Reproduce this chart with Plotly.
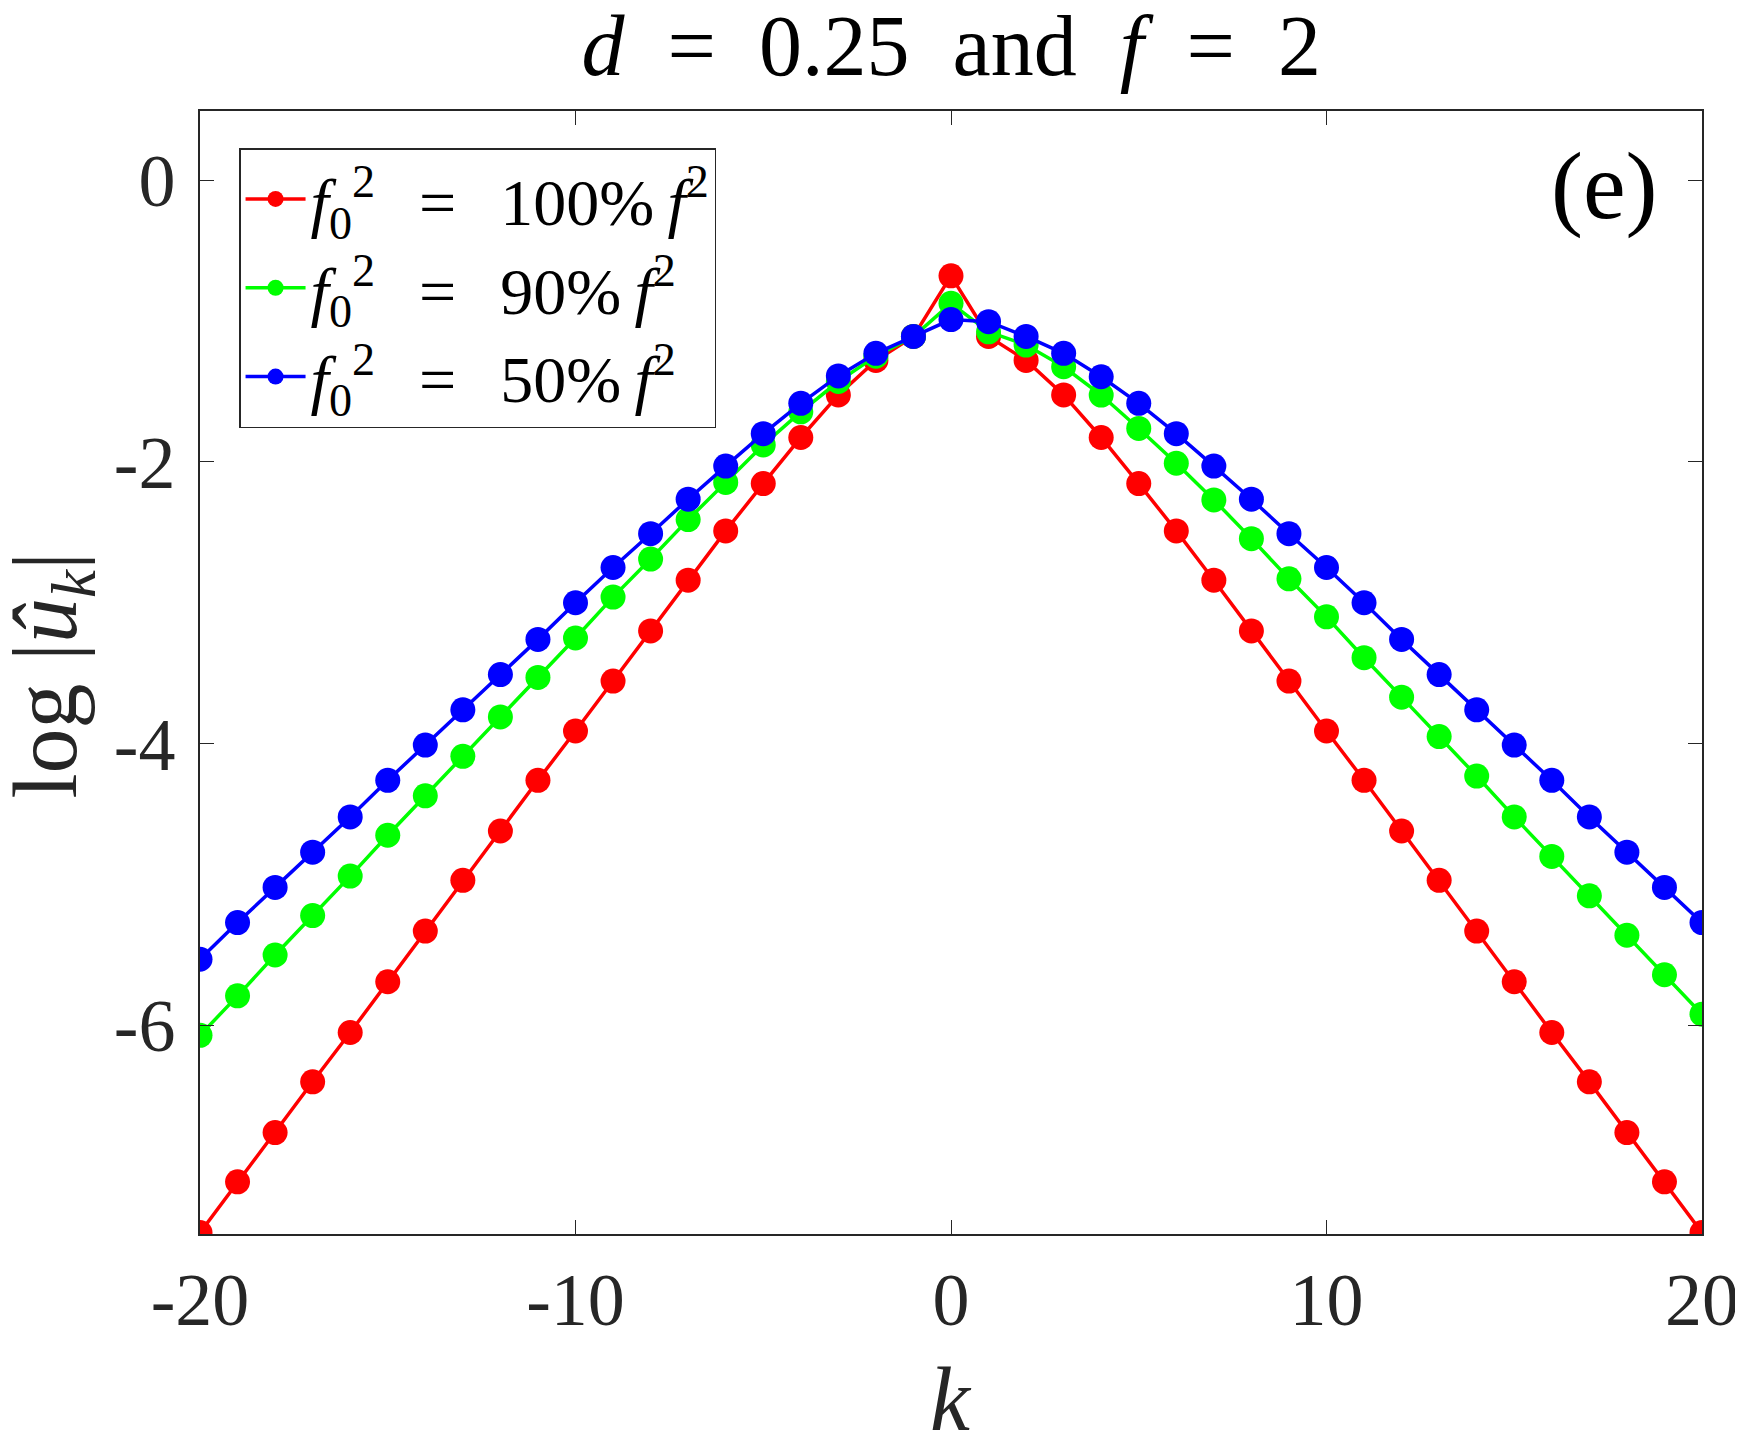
import plotly.graph_objects as go

# wavenumbers
k = list(range(-20, 21))

# log|u_k|, k = -20 .. 20
red_100 = [-7.47, -7.11, -6.76, -6.40, -6.05, -5.69, -5.33, -4.97, -4.62, -4.26,
           -3.91, -3.556, -3.20, -2.84, -2.49, -2.154, -1.827, -1.525, -1.28, -1.11,
           -0.68,
           -1.11, -1.28, -1.525, -1.827, -2.154, -2.49, -2.84, -3.20, -3.556, -3.91,
           -4.26, -4.62, -4.97, -5.33, -5.69, -6.05, -6.40, -6.76, -7.11, -7.47]

green_90 = [-6.07, -5.79, -5.50, -5.22, -4.94, -4.65, -4.37, -4.09, -3.81, -3.53,
            -3.25, -2.96, -2.69, -2.41, -2.146, -1.88, -1.645, -1.43, -1.25, -1.11,
            -0.875,
            -1.077, -1.171, -1.325, -1.526, -1.763, -2.01, -2.27, -2.545, -2.83, -3.10,
            -3.39, -3.67, -3.95, -4.23, -4.52, -4.80, -5.08, -5.36, -5.64, -5.92]

blue_50 = [-5.53, -5.27, -5.02, -4.77, -4.52, -4.26, -4.01, -3.76, -3.51, -3.26,
           -3.00, -2.75, -2.51, -2.265, -2.03, -1.80, -1.585, -1.39, -1.23, -1.11,
           -0.99,
           -1.005, -1.11, -1.23, -1.396, -1.585, -1.80, -2.03, -2.265, -2.51, -2.75,
           -3.00, -3.26, -3.51, -3.76, -4.01, -4.26, -4.52, -4.77, -5.02, -5.27]

EQ = "\u2002\u2006=\u2002\u2006"   # wide gap round "=", like the TeX original
names = ["<i>f</i><sub>0</sub><sup>2</sup>" + EQ + "100%\u2009<i>f</i><sup>2</sup>",
         "<i>f</i><sub>0</sub><sup>2</sup>" + EQ + "90%\u2009<i>f</i><sup>2</sup>",
         "<i>f</i><sub>0</sub><sup>2</sup>" + EQ + "50%\u2009<i>f</i><sup>2</sup>"]
colors = ["#ff0000", "#00ff00", "#0000ff"]

x_ticks = [-20, -10, 0, 10, 20]
x_labels = ["-20", "-10", "0", "10", "20"]
y_ticks = [0, -2, -4, -6]
y_labels = ["0", "-2", "-4", "-6"]

FONT = "Liberation Serif"
AX = "#262626"

fig = go.Figure()
for vals, name, col in zip([red_100, green_90, blue_50], names, colors):
	fig.add_trace(go.Scatter(
		x = k, y = vals, name = name, mode = "lines+markers",
		line = dict(color = col, width = 3.5),
		marker = dict(color = col, size = 25)))

axis_common = dict(
	showline = True, linecolor = AX, linewidth = 1.5, mirror = "ticks",
	ticks = "inside", ticklen = 14, tickwidth = 1.2, tickcolor = AX,
	showgrid = False, zeroline = False, automargin = False,
	ticklabeloverflow = "allow",
	tickfont = dict(family = FONT, size = 74, color = AX))

fig.update_xaxes(range = [-20, 20], tickvals = x_ticks, ticktext = x_labels,
	ticklabelstandoff = 0, **axis_common)
fig.update_yaxes(range = [-7.48, 0.49], tickvals = y_ticks, ticktext = y_labels,
	ticklabelstandoff = 8, **axis_common)

# the page body adds 8px round the figure
fig.update_layout(
	width = 1735, height = 1432,
	paper_bgcolor = "white", plot_bgcolor = "white",
	margin = dict(l = 192, r = 41, t = 103, b = 206),
	title = dict(text = "<i>d</i>\u2002=\u20020.25\u2002and\u2002<i>f</i>\u2002=\u20022",
		x = 0.5437, xanchor = "center", y = 0.974, yanchor = "middle",
		font = dict(family = FONT, size = 86, color = "black")),
	legend = dict(x = 0.026, y = 0.967, xanchor = "left", yanchor = "top",
		bordercolor = AX, borderwidth = 1.5, bgcolor = "white",
		font = dict(family = FONT, size = 66, color = "black"),
		itemwidth = 60, tracegroupgap = 0),
	showlegend = True)

# axis titles as annotations so they can sit right at the page edge
fig.add_annotation(text = "<i>k</i>", x = 0.5, y = -0.147, xref = "paper", yref = "paper",
	xanchor = "center", yanchor = "middle", showarrow = False,
	font = dict(family = FONT, size = 90, color = AX))
fig.add_annotation(text = "log |<i>û</i><sub><i>k</i></sub>|", textangle = -90,
	x = -0.098, y = 0.498, xref = "paper", yref = "paper",
	xanchor = "center", yanchor = "middle", showarrow = False,
	font = dict(family = FONT, size = 90, color = AX))

fig.add_annotation(text = "(e)", x = 0.972, y = 0.934, xref = "paper", yref = "paper",
	xanchor = "right", yanchor = "middle", showarrow = False,
	font = dict(family = FONT, size = 96, color = "black"))

fig.write_html("out.html")
